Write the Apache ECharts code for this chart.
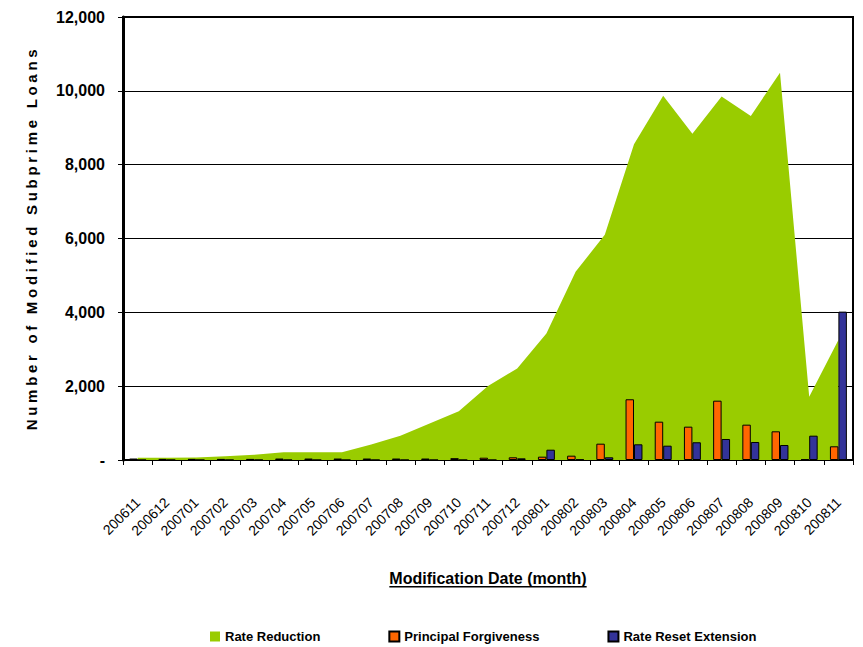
<!DOCTYPE html>
<html>
<head>
<meta charset="utf-8">
<script src="https://cdn.jsdelivr.net/npm/echarts@6/dist/echarts.min.js"></script>
<style>
  html, body { margin: 0; padding: 0; background: #fff; }
  #chart { width: 863px; height: 647px; }
</style>
</head>
<body>
<div id="chart"></div>
<script>
// Monthly counts of modified subprime loans by modification type
const months = ['200611','200612','200701','200702','200703','200704','200705','200706','200707',
  '200708','200709','200710','200711','200712','200801','200802','200803','200804','200805',
  '200806','200807','200808','200809','200810','200811'];
const rateReduction = [60, 60, 70, 100, 140, 210, 210, 210, 420, 660, 990, 1320, 2005, 2480, 3430,
  5100, 6100, 8550, 9865, 8835, 9846, 9320, 10490, 1715, 3250];
const principalForgiveness = [40, 30, 30, 30, 30, 40, 40, 40, 40, 40, 40, 50, 62, 73, 90,
  117, 442, 1645, 1038, 903, 1607, 957, 777, 20, 371];
const rateResetExtension = [0, 0, 0, 0, 0, 0, 0, 0, 0, 0, 0, 0, 0, 45, 279,
  15, 73, 425, 388, 480, 569, 488, 406, 659, 4019];
const yTicks = { min: 0, max: 12000, step: 2000 };

const yTitle = 'Number of Modified Subprime Loans';
const xTitle = 'Modification Date (month)';
const FONT = '"Liberation Sans", Arial, sans-serif';

const chart = echarts.init(document.getElementById('chart'), null, { renderer: 'svg' });

// width of the x-axis title, used for its underline
const mc = document.createElement('canvas').getContext('2d');
mc.font = 'bold 16px "Liberation Sans"';
const xTitleW = mc.measureText(xTitle).width;
const xTitleCx = 488, xTitleCy = 578;

chart.setOption({
  animation: false,
  backgroundColor: '#fff',
  grid: {
    left: 123, right: 10, top: 17, bottom: 187,
    show: true, borderColor: '#000', borderWidth: 2, backgroundColor: 'transparent'
  },
  legend: {
    left: 210, top: 630, padding: 0,
    itemWidth: 10, itemHeight: 10, itemGap: 68,
    textStyle: { fontFamily: FONT, fontWeight: 'bold', fontSize: 13, color: '#000' },
    data: [
      { name: 'Rate Reduction', icon: 'rect', itemStyle: { color: '#99CC00', borderWidth: 0 } },
      { name: 'Principal Forgiveness', icon: 'rect' },
      { name: 'Rate Reset Extension', icon: 'rect' }
    ]
  },
  xAxis: {
    type: 'category',
    data: months,
    boundaryGap: true,
    axisLine: { lineStyle: { color: '#000', width: 2 } },
    axisTick: { show: true, length: 5, lineStyle: { color: '#000', width: 1 } },
    axisLabel: {
      rotate: 45, margin: 40, interval: 0,
      fontFamily: FONT, fontSize: 14, color: '#000'
    },
    splitLine: { show: false }
  },
  yAxis: {
    type: 'value',
    min: yTicks.min, max: yTicks.max, interval: yTicks.step,
    axisLine: { show: true, lineStyle: { color: '#000', width: 3 } },
    axisTick: { show: true, length: 5, lineStyle: { color: '#000', width: 1 } },
    axisLabel: {
      margin: 18,
      fontFamily: FONT, fontSize: 16, fontWeight: 'bold', color: '#000',
      formatter: v => v === 0 ? '-' : v.toLocaleString('en-US')
    },
    splitLine: { show: true, lineStyle: { color: '#000', width: 1 } }
  },
  graphic: [
    {
      type: 'text', id: 'ytitle',
      x: 31, y: 238, rotation: Math.PI / 2,
      style: {
        text: yTitle, fill: '#000',
        font: 'bold 15px "Liberation Sans", Arial, sans-serif',
        align: 'center', verticalAlign: 'middle'
      }
    },
    {
      type: 'text',
      x: xTitleCx, y: xTitleCy,
      style: {
        text: xTitle, fill: '#000',
        font: 'bold 16px "Liberation Sans", Arial, sans-serif',
        align: 'center', verticalAlign: 'middle'
      }
    },
    {
      type: 'rect',
      shape: { x: xTitleCx - xTitleW / 2, y: xTitleCy + 8, width: xTitleW, height: 1.5 },
      style: { fill: '#000' }
    }
  ],
  series: [
    {
      name: 'Rate Reduction',
      type: 'line',
      data: rateReduction,
      symbol: 'none',
      lineStyle: { width: 0, color: '#99CC00' },
      itemStyle: { color: '#99CC00' },
      areaStyle: { color: '#99CC00', opacity: 1 },
      z: 1
    },
    {
      name: 'Principal Forgiveness',
      type: 'bar',
      data: principalForgiveness,
      barGap: '0%', barCategoryGap: '42%',
      itemStyle: { color: '#FF6600', borderColor: '#000', borderWidth: 1 },
      z: 3
    },
    {
      name: 'Rate Reset Extension',
      type: 'bar',
      data: rateResetExtension,
      barGap: '0%', barCategoryGap: '42%',
      itemStyle: { color: '#333399', borderColor: '#000', borderWidth: 1 },
      z: 3
    }
  ]
});

// spread out the letters of the vertical axis title
function spaceTitle() {
  document.querySelectorAll('#chart text').forEach(t => {
    if (t.textContent === yTitle) t.setAttribute('letter-spacing', '3.7');
  });
}
spaceTitle();
chart.on('finished', spaceTitle);
</script>
</body>
</html>
